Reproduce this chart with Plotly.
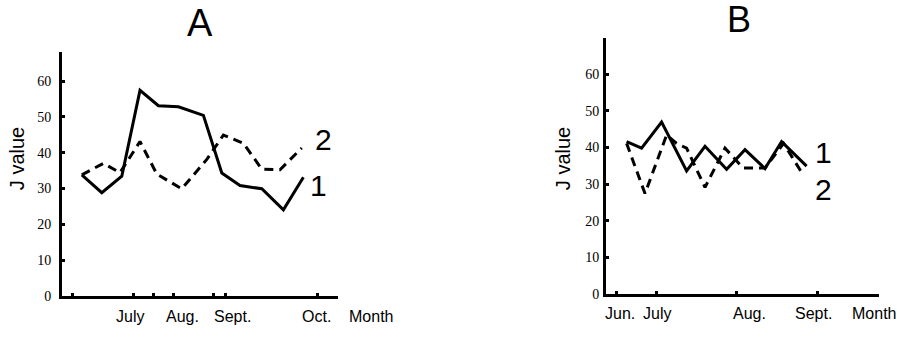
import plotly.graph_objects as go

W, H = 897, 337

# ---------- Data (x in sampling-position units along the month axis) ----------
# Panel A
a_x1 = [9.9, 19.9, 29.9, 39.0, 48.2, 58.2, 70.7, 79.9, 89.0, 99.9, 110.7, 120.7]
a_y1 = [33.8, 28.8, 33.4, 57.4, 53.1, 52.8, 50.4, 34.3, 30.8, 29.9, 24.0, 33.1]
a_x2 = [9.9, 20.7, 29.0, 39.0, 47.4, 59.9, 72.4, 80.7, 90.7, 99.9, 109.0, 119.9]
a_y2 = [33.8, 37.0, 34.4, 43.1, 34.0, 29.9, 38.1, 44.9, 42.6, 35.4, 35.2, 41.3]
a_month_pos = [34, 60, 85, 127]
a_month_lbl = ["July", "Aug.", "Sept.", "Oct."]
a_tick_dots = [5, 35.5, 45.5, 55.5, 75.5, 81.5, 127.5]

# Panel B
b_x1 = [10.3, 17.8, 27.8, 40.3, 49.5, 60.3, 69.5, 79.5, 87.8, 100.3]
b_y1 = [41.6, 39.8, 46.9, 33.6, 40.3, 34.0, 39.4, 34.2, 41.6, 34.9]
b_x2 = [10.3, 19.5, 30.3, 35.3, 40.3, 49.5, 59.5, 68.5, 79.5, 88.8, 98.8]
b_y2 = [41.1, 27.4, 43.4, 41.1, 39.8, 29.1, 39.8, 34.4, 34.4, 41.1, 32.3]
b_month_pos = [7, 25.5, 71.5, 103.5]
b_month_lbl = ["Jun.", "July", "Aug.", "Sept."]
b_tick_dots = [5, 25, 65, 105.5]

y_ticks = [0, 10, 20, 30, 40, 50, 60]

SANS = "Liberation Sans, Arial, sans-serif"
SERIF = "Liberation Serif, Times New Roman, serif"

fig = go.Figure()

def add_lines(xs1, ys1, xs2, ys2, xa, ya):
    fig.add_trace(go.Scatter(x=xs1, y=ys1, mode="lines", xaxis=xa, yaxis=ya,
                             line=dict(color="black", width=3), showlegend=False,
                             hoverinfo="skip"))
    fig.add_trace(go.Scatter(x=xs2, y=ys2, mode="lines", xaxis=xa, yaxis=ya,
                             line=dict(color="black", width=3, dash="9px,6px"),
                             showlegend=False, hoverinfo="skip"))

add_lines(a_x1, a_y1, a_x2, a_y2, "x", "y")
add_lines(b_x1, b_y1, b_x2, b_y2, "x2", "y2")

def px_x(p):
    return p / W

def px_y(p):
    return 1 - p / H

xcommon = dict(showline=True, linecolor="black", linewidth=3, showgrid=False,
               zeroline=False, ticks="inside", ticklen=3, tickwidth=3,
               tickcolor="black", showticklabels=False)
ycommon = dict(showline=True, linecolor="black", linewidth=3, showgrid=False,
               zeroline=False, ticks="inside", ticklen=3, tickwidth=3,
               tickcolor="black", tickvals=y_ticks,
               tickfont=dict(family=SERIF, size=14, color="black"))

fig.update_layout(
    width=W, height=H,
    margin=dict(l=0, r=0, t=0, b=0),
    paper_bgcolor="white", plot_bgcolor="white",
    xaxis=dict(domain=[px_x(62), px_x(338)], range=[0, 138],
               tickvals=a_tick_dots, anchor="y", **xcommon),
    yaxis=dict(domain=[px_y(303), px_y(303 - 68 * 3.667)], range=[0, 68],
               anchor="x", ticklabelstandoff=5, **ycommon),
    xaxis2=dict(domain=[px_x(606), px_x(879)], range=[0, 136.5],
                tickvals=b_tick_dots, anchor="y2", **xcommon),
    yaxis2=dict(domain=[px_y(301), px_y(301 - 70 * 3.75)], range=[0, 70],
                anchor="x2", ticklabelstandoff=1, **ycommon),
)

ann = []
# Panel titles
ann.append(dict(text="A", x=px_x(200), y=px_y(24), xref="paper", yref="paper",
                showarrow=False, font=dict(family=SANS, size=38, color="black"),
                xanchor="center", yanchor="middle"))
ann.append(dict(text="B", x=px_x(739), y=px_y(20), xref="paper", yref="paper",
                showarrow=False, font=dict(family=SANS, size=36, color="black"),
                xanchor="center", yanchor="middle"))
# Y titles
for xp in (17, 563):
    ann.append(dict(text="J value", x=px_x(xp), y=px_y(163), xref="paper", yref="paper",
                    showarrow=False, textangle=-90,
                    font=dict(family=SANS, size=20, color="black"),
                    xanchor="center", yanchor="middle"))
# Month labels
MFONT = dict(family=SANS, size=16, color="black")
for pos, lbl in zip(a_month_pos, a_month_lbl):
    ann.append(dict(text=lbl, x=pos, y=px_y(324), xref="x", yref="paper",
                    showarrow=False, font=MFONT, xanchor="center", yanchor="middle"))
ann.append(dict(text="Month", x=px_x(347), y=px_y(324), xref="paper", yref="paper",
                showarrow=False, font=MFONT, xanchor="left", yanchor="middle"))
for pos, lbl in zip(b_month_pos, b_month_lbl):
    ann.append(dict(text=lbl, x=pos, y=px_y(321), xref="x2", yref="paper",
                    showarrow=False, font=MFONT, xanchor="center", yanchor="middle"))
ann.append(dict(text="Month", x=px_x(850), y=px_y(321), xref="paper", yref="paper",
                showarrow=False, font=MFONT, xanchor="left", yanchor="middle"))
# Series labels
for txt, xx, yy, xr, yr in [("2", 130.5, 43.6, "x", "y"), ("1", 128, 30.8, "x", "y"),
                            ("1", 108.5, 38.5, "x2", "y2"), ("2", 108.5, 28.6, "x2", "y2")]:
    ann.append(dict(text=txt, x=xx, y=yy, xref=xr, yref=yr, showarrow=False,
                    font=dict(family=SANS, size=30, color="black"),
                    xanchor="center", yanchor="middle"))

fig.update_layout(annotations=ann)
fig.write_html("out.html")
